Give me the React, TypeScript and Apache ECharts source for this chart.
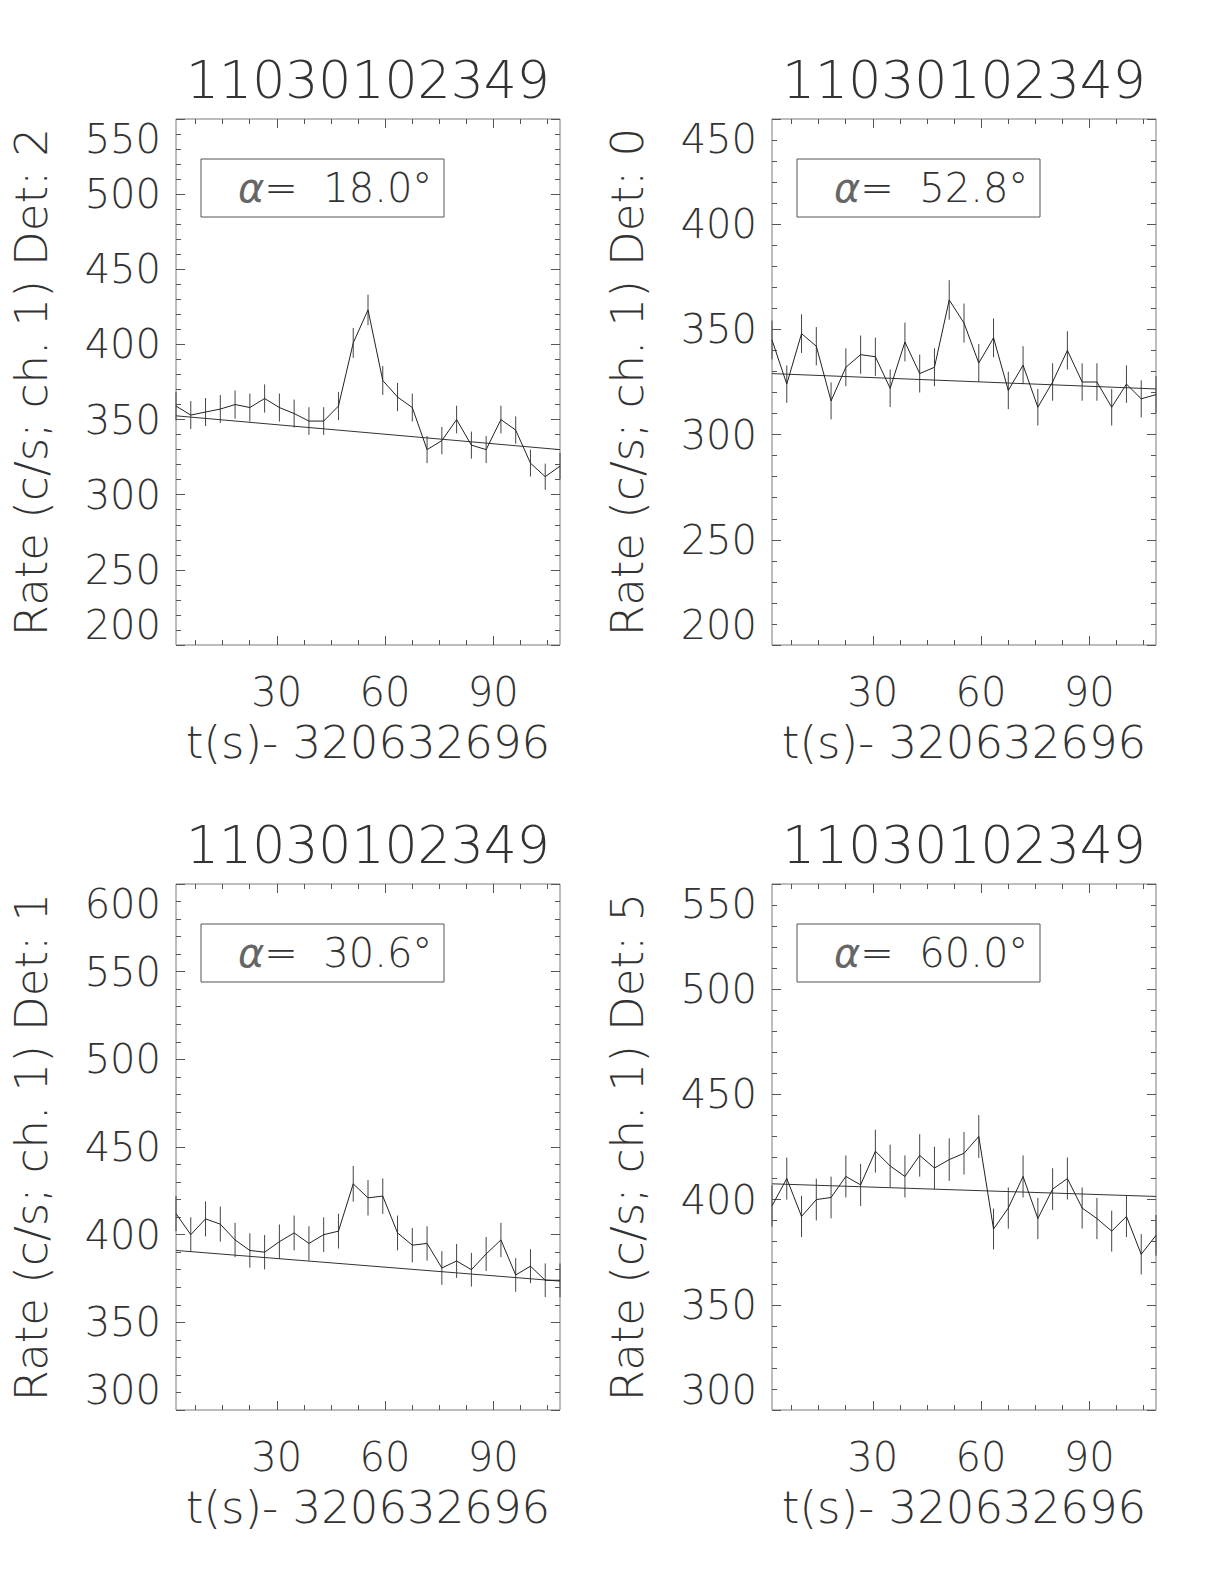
import React, { useEffect, useRef } from "react";
import * as echarts from "echarts";

// ---- data ----
const timeBins = [
  2.048, 6.144, 10.24, 14.336, 18.432, 22.528, 26.624, 30.72, 34.816, 38.912, 43.008, 47.104, 51.2, 55.296,
  59.392, 63.488, 67.584, 71.68, 75.776, 79.872, 83.968, 88.064, 92.16, 96.256, 100.352, 104.448, 108.544,
];

const panelTitles = ["11030102349", "11030102349", "11030102349", "11030102349"];
const xAxisTitle = "t(s)- 320632696";
const yAxisTitles = [
  "Rate (c/s; ch. 1) Det: 2",
  "Rate (c/s; ch. 1) Det: 0",
  "Rate (c/s; ch. 1) Det: 1",
  "Rate (c/s; ch. 1) Det: 5",
];
const alphaValues = ["18.0", "52.8", "30.6", "60.0"];

const det2Rate = [359, 353, 355, 357, 360, 358, 364, 358, 354, 349, 349, 359, 401, 423, 376, 365, 358, 330, 336, 350, 333, 330, 350, 343, 321, 312, 319];
const det2Err = [9.4, 9.3, 9.3, 9.3, 9.4, 9.3, 9.4, 9.3, 9.3, 9.2, 9.2, 9.4, 9.9, 10.2, 9.6, 9.4, 9.3, 9.0, 9.1, 9.2, 9.0, 9.0, 9.2, 9.1, 8.9, 8.7, 8.8];
const det2Fit = [352.5, 330];

const det0Rate = [345, 324, 348, 342, 316, 332, 338, 337, 322, 344, 329, 332, 364, 353, 334, 346, 321, 333, 313, 325, 340, 325, 325, 313, 324, 317, 319];
const det0Err = [9.2, 8.9, 9.2, 9.1, 8.8, 9.0, 9.1, 9.1, 8.9, 9.2, 9.0, 9.0, 9.4, 9.3, 9.0, 9.2, 8.9, 9.0, 8.7, 8.9, 9.1, 8.9, 8.9, 8.7, 8.9, 8.8, 8.8];
const det0Fit = [329, 321.7];

const det1Rate = [412, 400, 409, 406, 397, 391, 390, 396, 401, 395, 400, 402, 429, 421, 422, 401, 394, 395, 381, 385, 380, 389, 397, 377, 382, 374, 374];
const det1Err = [10.0, 9.9, 10.0, 10.0, 9.8, 9.8, 9.8, 9.8, 9.9, 9.8, 9.9, 9.9, 10.2, 10.1, 10.1, 9.9, 9.8, 9.8, 9.6, 9.7, 9.6, 9.7, 9.8, 9.6, 9.7, 9.6, 9.6];
const det1Fit = [391, 373.5];

const det5Rate = [397, 410, 392, 400, 401, 411, 407, 423, 416, 411, 421, 415, 419, 422, 430, 386, 396, 411, 391, 405, 410, 396, 391, 385, 392, 374, 383];
const det5Err = [9.8, 10.0, 9.8, 9.9, 9.9, 10.0, 10.0, 10.2, 10.1, 10.0, 10.1, 10.1, 10.1, 10.1, 10.2, 9.7, 9.8, 10.0, 9.8, 9.9, 10.0, 9.8, 9.8, 9.7, 9.8, 9.6, 9.7];
const det5Fit = [407.5, 401.5];

const panelRates = [det2Rate, det0Rate, det1Rate, det5Rate];
const panelErrs = [det2Err, det0Err, det1Err, det5Err];
const panelFits = [det2Fit, det0Fit, det1Fit, det5Fit];

const yMins = [200, 200, 300, 300];
const yMaxs = [550, 450, 600, 550];
const yStep = 50;

const xMajorTicks = [30, 60, 90];
const xMinorTicks = [7.5, 15, 22.5, 37.5, 45, 52.5, 67.5, 75, 82.5, 97.5, 105];

// ---- layout ----
const gridLefts = [176, 772, 176, 772];
const gridTops = [119, 119, 884, 884];
const gridW = 384;
const gridH = 526;

const FONT = "'DejaVu Sans', sans-serif";
const TEXT_COLOR = "#333";
const FRAME_COLOR = "#7a7a7a";

function buildOption() {
  const xMin = timeBins[0];
  const xMax = timeBins[timeBins.length - 1];
  const grids: any[] = [];
  const xAxes: any[] = [];
  const yAxes: any[] = [];
  const series: any[] = [];
  const graphics: any[] = [];

  for (let i = 0; i < 4; i++) {
    grids.push({
      left: gridLefts[i],
      top: gridTops[i],
      width: gridW,
      height: gridH,
      show: true,
      borderColor: FRAME_COLOR,
      borderWidth: 1,
      backgroundColor: "transparent",
    });

    const baseX = {
      type: "value",
      gridIndex: i,
      min: xMin,
      max: xMax,
      axisLine: { show: false },
      splitLine: { show: false },
    };
    // bottom minor ticks
    xAxes.push({
      ...baseX,
      position: "bottom",
      axisTick: { show: true, inside: true, length: 5, customValues: xMinorTicks, lineStyle: { color: "#555", width: 1 } },
      axisLabel: { show: false },
    });
    // bottom major ticks + labels + name
    xAxes.push({
      ...baseX,
      position: "bottom",
      axisTick: { show: true, inside: true, length: 9, customValues: xMajorTicks, lineStyle: { color: "#555", width: 1 } },
      axisLabel: {
        show: true,
        customValues: xMajorTicks,
        margin: 27,
        fontSize: 40,
        fontFamily: FONT,
        fontWeight: 200,
        color: TEXT_COLOR,
      },
      name: xAxisTitle,
      nameLocation: "middle",
      nameGap: 75,
      nameTextStyle: { fontSize: 45, fontFamily: FONT, fontWeight: 200, color: TEXT_COLOR },
    });
    // top minor ticks
    xAxes.push({
      ...baseX,
      position: "top",
      axisTick: { show: true, inside: true, length: 5, customValues: xMinorTicks, lineStyle: { color: "#555", width: 1 } },
      axisLabel: { show: false },
    });
    // top major ticks
    xAxes.push({
      ...baseX,
      position: "top",
      axisTick: { show: true, inside: true, length: 9, customValues: xMajorTicks, lineStyle: { color: "#555", width: 1 } },
      axisLabel: { show: false },
    });

    const baseY = {
      type: "value",
      gridIndex: i,
      min: yMins[i],
      max: yMaxs[i],
      interval: yStep,
      axisLine: { show: false },
      splitLine: { show: false },
      axisTick: { show: true, inside: true, length: 9, lineStyle: { color: "#555", width: 1 } },
      minorTick: { show: true, splitNumber: 5, length: 5, lineStyle: { color: "#555", width: 1 } },
    };
    yAxes.push({
      ...baseY,
      position: "left",
      axisLabel: {
        show: true,
        margin: 15,
        fontSize: 40,
        fontFamily: FONT,
        fontWeight: 200,
        color: TEXT_COLOR,
        verticalAlignMinLabel: "bottom",
        verticalAlignMaxLabel: "top",
      },
      name: yAxisTitles[i],
      nameLocation: "middle",
      nameRotate: 90,
      nameGap: 122,
      nameTextStyle: { fontSize: 45, fontFamily: FONT, fontWeight: 200, color: TEXT_COLOR },
    });
    yAxes.push({
      ...baseY,
      position: "right",
      axisLabel: { show: false },
    });

    const rates = panelRates[i];
    const errs = panelErrs[i];
    const fit = panelFits[i];

    series.push({
      type: "line",
      xAxisIndex: 4 * i,
      yAxisIndex: 2 * i,
      data: timeBins.map((t, k) => [t, rates[k]]),
      symbol: "none",
      lineStyle: { color: "#222", width: 1 },
      z: 4,
    });
    series.push({
      type: "custom",
      xAxisIndex: 4 * i,
      yAxisIndex: 2 * i,
      data: timeBins.map((t, k) => [t, rates[k] - errs[k], rates[k] + errs[k]]),
      encode: { x: 0, y: [1, 2] },
      renderItem: (params: any, api: any) => {
        const x = api.value(0);
        const lo = api.coord([x, api.value(1)]);
        const hi = api.coord([x, api.value(2)]);
        return {
          type: "line",
          shape: { x1: lo[0], y1: lo[1], x2: hi[0], y2: hi[1] },
          style: { stroke: "#444", lineWidth: 1 },
        };
      },
      z: 3,
    });
    series.push({
      type: "line",
      xAxisIndex: 4 * i,
      yAxisIndex: 2 * i,
      data: [
        [xMin, fit[0]],
        [xMax, fit[1]],
      ],
      symbol: "none",
      lineStyle: { color: "#333", width: 1 },
      z: 3,
    });

    // title
    graphics.push({
      type: "text",
      x: gridLefts[i] + gridW / 2,
      y: gridTops[i] - 39,
      style: {
        text: panelTitles[i],
        fontSize: 52,
        fontFamily: FONT,
        fontWeight: 200,
        fill: TEXT_COLOR,
        align: "center",
        verticalAlign: "middle",
      },
    });
    // alpha box
    graphics.push({
      type: "rect",
      shape: { x: gridLefts[i] + 25, y: gridTops[i] + 40, width: 243, height: 58 },
      style: { fill: "none", stroke: "#555", lineWidth: 1 },
    });
    graphics.push({
      type: "text",
      x: gridLefts[i] + 62,
      y: gridTops[i] + 69,
      style: {
        text: "{a|α}=  " + alphaValues[i] + "°",
        fontSize: 40,
        fontFamily: FONT,
        fontWeight: 200,
        fill: TEXT_COLOR,
        align: "left",
        verticalAlign: "middle",
        rich: {
          a: { fontSize: 40, fontFamily: FONT, fontStyle: "italic", fontWeight: 200, fill: "#666" },
        },
      },
    });
  }

  return {
    animation: false,
    backgroundColor: "#fff",
    grid: grids,
    xAxis: xAxes,
    yAxis: yAxes,
    series,
    graphic: graphics,
  };
}

export default function App() {
  const ref = useRef<HTMLDivElement>(null);
  useEffect(() => {
    if (!ref.current) return;
    const chart = echarts.init(ref.current, undefined, { renderer: "svg" });
    chart.setOption(buildOption() as any);
    return () => chart.dispose();
  }, []);
  return (
    <div
      ref={ref}
      style={{ position: "fixed", left: 0, top: 0, width: 1224, height: 1584, background: "#fff" }}
    />
  );
}
